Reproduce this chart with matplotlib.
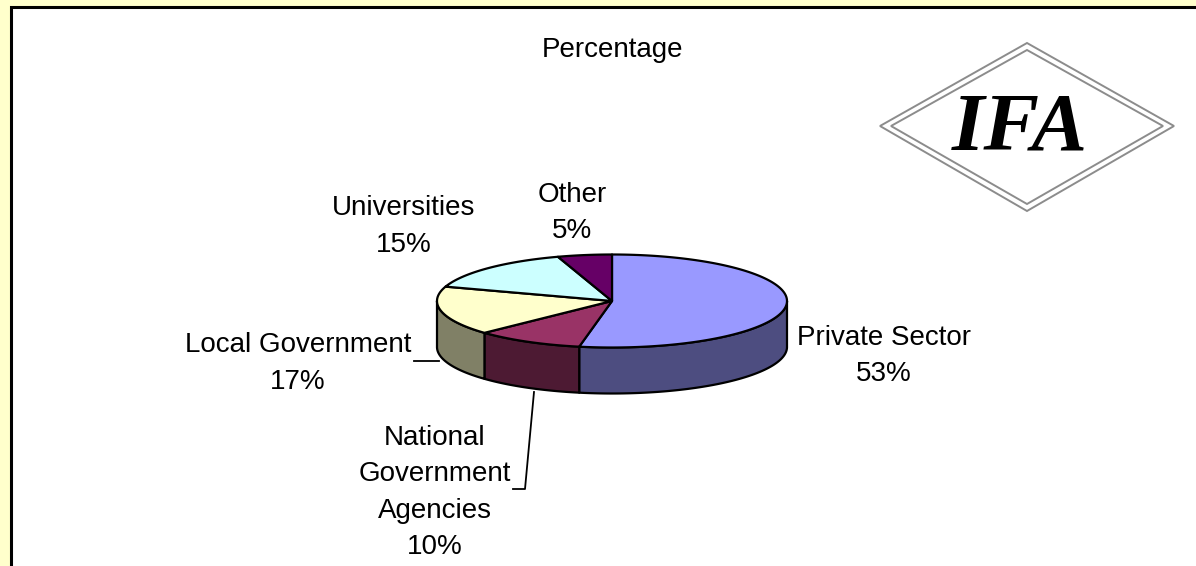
import numpy as np
import matplotlib
matplotlib.use("Agg")
import matplotlib.pyplot as plt
from matplotlib.patches import Polygon

plt.rcParams['font.family'] = ['Liberation Sans', 'DejaVu Sans']

kategorie = ["Private Sector", "National\nGovernment\nAgencies", "Local Government", "Universities", "Other"]
procenty = [53, 10, 17, 15, 5]
kolory_gora = ["#9999FF", "#993366", "#FFFFCC", "#CCFFFF", "#660066"]
kolory_bok = ["#4D4D80", "#4D1A33", "#808066", "#668080", "#330033"]
# pozycje opisow (srodek tekstu) w pikselach
opisy_xy = [(884, 356), (435, 492.5), (298, 363.5), (404, 226.5), (572, 213)]

W, H = 1196, 566
cx, cy = 612, 301    # srodek gornej elipsy
rx, ry = 175, 46.5
glebokosc = 46


def elipsa(t):
    # kat t liczony od godziny 12 zgodnie ze wskazowkami zegara
    return cx + rx*np.sin(t), cy - ry*np.cos(t)


fig = plt.figure(figsize=(W/100, H/100), dpi=100, facecolor="#FFFFCC")
ax = fig.add_axes([0, 0, 1, 1])
ax.set_xlim(0, W)
ax.set_ylim(H, 0)
ax.axis("off")

# biale pole wykresu z czarna ramka, dolem i prawa strona wychodzi poza obraz
ax.add_patch(plt.Rectangle((11, 7), 1250, 600, fc="white", ec="black", lw=2.2, zorder=1))

granice = np.radians(np.cumsum([0] + procenty)*3.6)

# boczne sciany, widoczne tylko w dolnej polowie elipsy
for i in range(len(procenty)):
    t1 = max(granice[i], np.pi/2)
    t2 = min(granice[i+1], 3*np.pi/2)
    if t2 <= t1:
        continue
    t = np.linspace(t1, t2, 120)
    x, y = elipsa(t)
    pts = np.r_[np.c_[x, y], np.c_[x[::-1], y[::-1] + glebokosc]]
    ax.add_patch(Polygon(pts, closed=True, fc=kolory_bok[i], ec="black", lw=1.6, joinstyle="round", zorder=3))

# gorne wycinki
for i in range(len(procenty)):
    t = np.linspace(granice[i], granice[i+1], 200)
    x, y = elipsa(t)
    pts = np.r_[[[cx, cy]], np.c_[x, y]]
    ax.add_patch(Polygon(pts, closed=True, fc=kolory_gora[i], ec="black", lw=1.6, joinstyle="round", zorder=4))

# opisy
ax.text(612, 50, "Percentage", ha="center", va="center", fontsize=20, color="black")
for nazwa, p, (x, y) in zip(kategorie, procenty, opisy_xy):
    ax.text(x, y, f"{nazwa}\n{p}%", ha="center", va="center", fontsize=20,
            color="black", linespacing=1.52, zorder=6)

# linie odniesienia
ax.plot([414, 439], [361, 361], color="black", lw=1.3, zorder=2)
ax.plot([534, 525, 513], [392, 489, 489], color="black", lw=1.3, zorder=2)

# znak IFA
romb_x = [1027, 1174, 1027, 880]
romb_y = [43, 126, 211, 126]
ax.add_patch(Polygon(np.c_[romb_x, romb_y], closed=True, fc="white", ec="#8c8c8c", lw=1.4, zorder=5))
wew_x = [1027, 1163, 1027, 891]
wew_y = [50, 126, 204, 126]
ax.add_patch(Polygon(np.c_[wew_x, wew_y], closed=True, fc="white", ec="#8c8c8c", lw=1.4, zorder=5))
ax.text(1019.5, 130, "IFA", ha="center", va="center", fontsize=60, family="Liberation Serif",
        style="italic", weight="bold", color="black", zorder=6)

fig.savefig("out.png", dpi=100, facecolor=fig.get_facecolor())
